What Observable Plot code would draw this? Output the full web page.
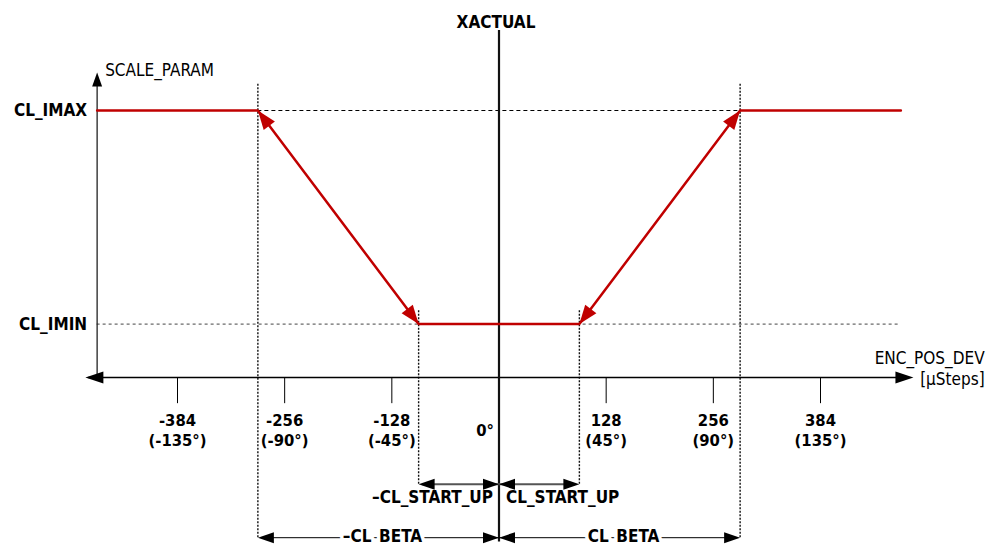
<!DOCTYPE html>
<html><head><meta charset="utf-8">
<script src="https://cdn.jsdelivr.net/npm/d3@7"></script>
<script src="https://cdn.jsdelivr.net/npm/@observablehq/plot@0.6"></script>
<style>html,body{margin:0;padding:0;background:#fff;overflow:hidden}svg{display:block}</style>
</head><body><div id="chart"></div>
<script>
// ---- data ----
const stepTicks = [-384, -256, -128, 128, 256, 384];
const stepLabels = ["-384", "-256", "-128", "128", "256", "384"];
const degLabels = ["(-135°)", "(-90°)", "(-45°)", "(45°)", "(90°)", "(135°)"];
const curveX = [-480, -288, -96, 96, 288, 480];
const curveY = [5, 5, 1, 1, 5, 5];
const levelNames = ["CL_IMIN", "CL_IMAX"];
const levelValues = [1, 5];
const clBeta = 288;
const clStartUp = 96;

// ---- layout / style ----
const FONT = "DejaVu Sans Condensed, DejaVu Sans, sans-serif";
const RED = "#c00000";
const xOpt = {domain: [-384, 384], range: [177, 820], axis: null};
const yOpt = {domain: [0, 5], range: [377, 110], axis: null};
const sx = d3.scaleLinear(xOpt.domain, xOpt.range);
const sy = d3.scaleLinear(yOpt.domain, yOpt.range);
const xMin = curveX[0], xMax = curveX[curveX.length - 1];
const imin = levelValues[0], imax = levelValues[1];

function head(len, half) {
  return {draw(ctx) { ctx.moveTo(0, 0); ctx.lineTo(-half, len); ctx.lineTo(half, len); ctx.closePath(); }};
}
function angle(x0, y0, x1, y1) {
  const dx = sx(x1) - sx(x0), dy = sy(y1) - sy(y0);
  return Math.atan2(dx, -dy) * 180 / Math.PI;
}

const curve = curveX.map((x, i) => ({x, y: curveY[i]}));
const redHeads = [];
for (let i = 0; i < curve.length - 1; i++) {
  const a = curve[i], b = curve[i + 1];
  if (a.y !== b.y) {
    redHeads.push({x: b.x, y: b.y, r: angle(a.x, a.y, b.x, b.y)});
    redHeads.push({x: a.x, y: a.y, r: angle(b.x, b.y, a.x, a.y)});
  }
}
const yStartUp = -2.0, yBeta = -3.0;
const dimHeads = [
  {x: -clStartUp, y: yStartUp, r: -90}, {x: 0, y: yStartUp, r: 90},
  {x: 0, y: yStartUp, r: -90}, {x: clStartUp, y: yStartUp, r: 90},
  {x: -clBeta, y: yBeta, r: -90}, {x: 0, y: yBeta, r: 90},
  {x: 0, y: yBeta, r: -90}, {x: clBeta, y: yBeta, r: 90}
];
const axisHeads = [
  {x: -494, y: 0, r: -90}, {x: 495, y: 0, r: 90}
];
const yAxisTop = 5.71;
const ticks = stepTicks.map((x, i) => ({x, s: stepLabels[i], d: degLabels[i]}));
const levels = levelNames.map((n, i) => ({n, y: levelValues[i]}));

const txt = (o) => Object.assign({fontFamily: FONT, fontSize: 17, fill: "#000", fontWeight: "bold"}, o);

const chart = Plot.plot({
  width: 994, height: 544, margin: 0,
  x: xOpt, y: yOpt,
  style: {fontFamily: FONT, background: "#fff"},
  marks: [
    // dashed level guides
    Plot.ruleY([imax], {x1: -clBeta, x2: clBeta, stroke: "#000", strokeWidth: 1, strokeDasharray: "4,3"}),
    Plot.ruleY([imin], {x1: xMin, x2: xMax, stroke: "#444", strokeWidth: 1, strokeDasharray: "3,3"}),
    // dotted verticals
    Plot.ruleX([-clBeta, clBeta], {y1: yBeta, y2: 5.52, stroke: "#111", strokeWidth: 1.4, strokeDasharray: "2,1.5"}),
    Plot.ruleX([-clStartUp, clStartUp], {y1: yStartUp, y2: 1.25, stroke: "#111", strokeWidth: 1.4, strokeDasharray: "2,1.5"}),
    // axes
    Plot.ruleY([0], {x1: -490, x2: 490, stroke: "#000", strokeWidth: 1.5}),
    Plot.ruleX([xMin], {y1: 0, y2: yAxisTop - 0.1, stroke: "#222", strokeWidth: 1.3}),
    Plot.ruleX(stepTicks, {y1: 0, y2: -0.49, stroke: "#000", strokeWidth: 1}),
    Plot.ruleX([0], {y1: -3.08, y2: 6.5, stroke: "#111", strokeWidth: 2.2}),
    // dimension lines
    Plot.ruleY([yStartUp], {x1: -clStartUp + 5, x2: clStartUp - 5, stroke: "#555", strokeWidth: 2}),
    Plot.ruleY([yBeta], {x1: -clBeta + 5, x2: clBeta - 5, stroke: "#000", strokeWidth: 1}),
    // red characteristic
    Plot.line(curve, {x: "x", y: "y", stroke: RED, strokeWidth: 2.5, strokeLinejoin: "miter"}),
    Plot.dot(redHeads, {x: "x", y: "y", rotate: "r", symbol: head(19, 7), fill: RED, stroke: "none"}),
    // arrowheads
    Plot.dot(dimHeads, {x: "x", y: "y", rotate: "r", symbol: head(16, 5.5), fill: "#000", stroke: "none"}),
    Plot.dot(axisHeads, {x: "x", y: "y", rotate: "r", symbol: head(18, 6), fill: "#000", stroke: "none"}),
    Plot.dot([{x: xMin, y: yAxisTop}], {x: "x", y: "y", symbol: head(14, 5), fill: "#000", stroke: "none"}),
    // tick labels
    Plot.text(ticks, txt({x: "x", y: () => -0.805, text: "s", fontSize: 16.5})),
    Plot.text(ticks, txt({x: "x", y: () => -1.18, text: "d", fontSize: 16.5})),
    Plot.text(["0°"], txt({x: () => 0, y: () => -0.99, text: d => d, textAnchor: "end", dx: -5, fontSize: 16.5})),
    // level labels
    Plot.text(levels, txt({x: () => xMin, y: "y", text: "n", textAnchor: "end", dx: -10})),
    // axis titles
    Plot.text(["SCALE_PARAM"], txt({x: () => xMin, y: () => 5.75, text: d => d, textAnchor: "start", dx: 8, fontWeight: "normal"})),
    Plot.text(["XACTUAL"], txt({x: () => 0, y: () => 6.65, text: d => d, dx: -3})),
    Plot.text(["ENC_POS_DEV"], txt({x: () => 580, y: () => 0.36, text: d => d, textAnchor: "end", fontWeight: "normal"})),
    Plot.text(["[µSteps]"], txt({x: () => 580, y: () => -0.04, text: d => d, textAnchor: "end", fontWeight: "normal"})),
    // dimension labels
    Plot.text(["–CL_START_UP"], txt({x: () => 0, y: () => -2.25, text: d => d, textAnchor: "end", dx: -6})),
    Plot.text(["CL_START_UP"], txt({x: () => 0, y: () => -2.25, text: d => d, textAnchor: "start", dx: 7})),
    Plot.text(["–CL_BETA"], txt({x: () => -clBeta / 2, y: () => yBeta, text: d => d, dx: 4, dy: -1, stroke: "#fff", strokeWidth: 7})),
    Plot.text(["CL_BETA"], txt({x: () => clBeta / 2, y: () => yBeta, text: d => d, dx: 4, dy: -1, stroke: "#fff", strokeWidth: 7}))
  ]
});
document.getElementById("chart").appendChild(chart);
</script>
</body></html>
